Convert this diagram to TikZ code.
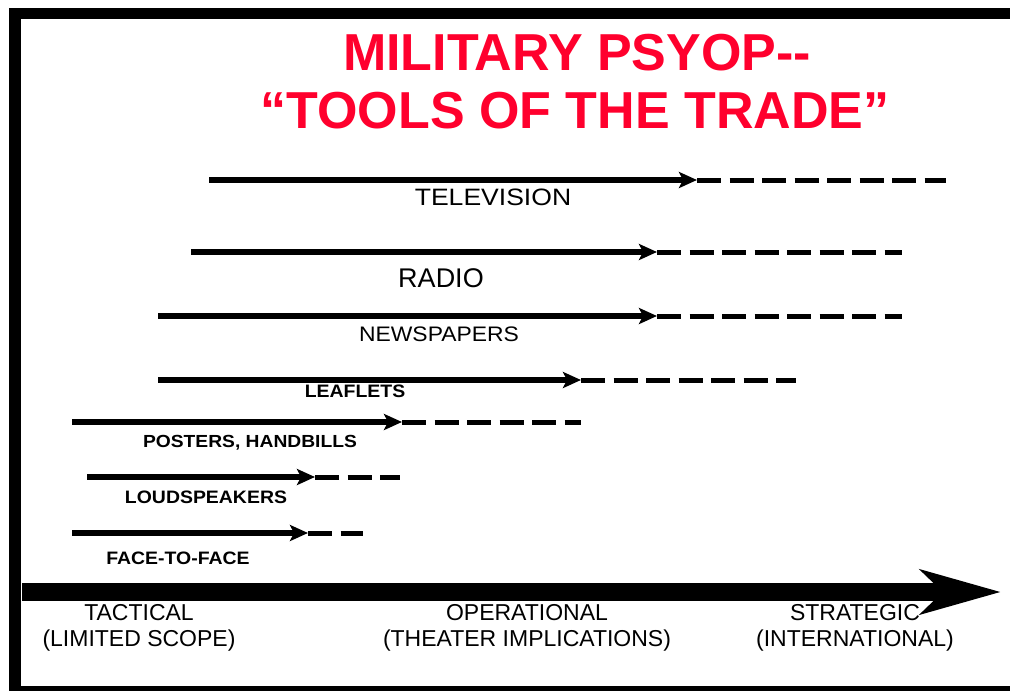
\documentclass[tikz,border=0pt]{standalone}
\usepackage{fontspec}
\usepackage{graphicx}
\setmainfont{Liberation Sans}
\usetikzlibrary{arrows.meta}
\definecolor{titlered}{RGB}{255,0,45}
\newcommand{\mylab}[3]{\fontsize{#1}{#1}\selectfont\scalebox{#2}[1]{#3}}
\tikzset{
  framebar/.style={fill=black, draw=none},
  solidarrow/.style={line width=6pt, -{Stealth[length=18pt,width=16pt,inset=4pt]}},
  dashline/.style={line width=5pt, dash pattern=on 24pt off 8.5pt},
  bigarrow/.style={line width=18pt, -{Stealth[length=80pt,width=44pt,inset=22pt]}},
  lbl/.style={anchor=base, inner sep=0pt, text=black},
  blbl/.style={lbl, font=\bfseries},
  ttl/.style={anchor=base, inner sep=0pt, text=titlered, font=\fontsize{52}{52}\selectfont\bfseries}
}
\begin{document}
\begin{tikzpicture}[x=1pt,y=-1pt]
\useasboundingbox (0,0) rectangle (1010,691);
% frame
\fill[framebar] (9,8) rectangle (1010,19);
\fill[framebar] (9,8) rectangle (21,691);
\fill[framebar] (9,686) rectangle (1010,691);
% title
\node[ttl] (t1) at (577,70) {MILITARY PSYOP-{}-};
\node[ttl] (t2) at (575,128) {“TOOLS OF THE TRADE”};
% media lines: name/start/mid/end/y
\foreach \n/\s/\m/\e/\y in {tv/209/697/946/180, ra/191/657/902/252, np/158/657/902/316, le/158/581/796/380, po/72/402/581/422, lo/87/315/400/477, fa/72/308/363/533}{
  \coordinate (\n S) at (\s,\y);
  \coordinate (\n M) at (\m,\y);
  \coordinate (\n E) at (\e,\y);
  \draw[dashline] (\n M) -- (\n E);
  \draw[solidarrow] (\n S) -- (\n M);
}
% labels
\node[lbl] (ltv) at (493,205) {\mylab{23.7}{1.12}{TELEVISION}};
\node[lbl] (lra) at (441,287) {\mylab{27}{1.0}{RADIO}};
\node[lbl] (lnp) at (439,341) {\mylab{21}{1.09}{NEWSPAPERS}};
\node[blbl] (lle) at (355,397) {\mylab{18}{1.08}{LEAFLETS}};
\node[blbl] (lpo) at (250,447) {\mylab{17.5}{1.1}{POSTERS, HANDBILLS}};
\node[blbl] (llo) at (206,503) {\mylab{18}{1.08}{LOUDSPEAKERS}};
\node[blbl] (lfa) at (178,564) {\mylab{18}{1.08}{FACE-TO-FACE}};
% scope axis
\coordinate (axS) at (22,592);
\coordinate (axE) at (1001,592);
\draw[bigarrow] (axS) -- (axE);
\node[lbl] (tac) at (139,620) {\mylab{23}{1}{TACTICAL}};
\node[lbl] (tac2) at (139,646) {\mylab{23}{1}{(LIMITED SCOPE)}};
\node[lbl] (ope) at (527,620) {\mylab{23}{1}{OPERATIONAL}};
\node[lbl] (ope2) at (527,646) {\mylab{23}{1}{(THEATER IMPLICATIONS)}};
\node[lbl] (str) at (855,620) {\mylab{23}{1}{STRATEGIC}};
\node[lbl] (str2) at (855,646) {\mylab{23}{1}{(INTERNATIONAL)}};
\end{tikzpicture}
\end{document}
